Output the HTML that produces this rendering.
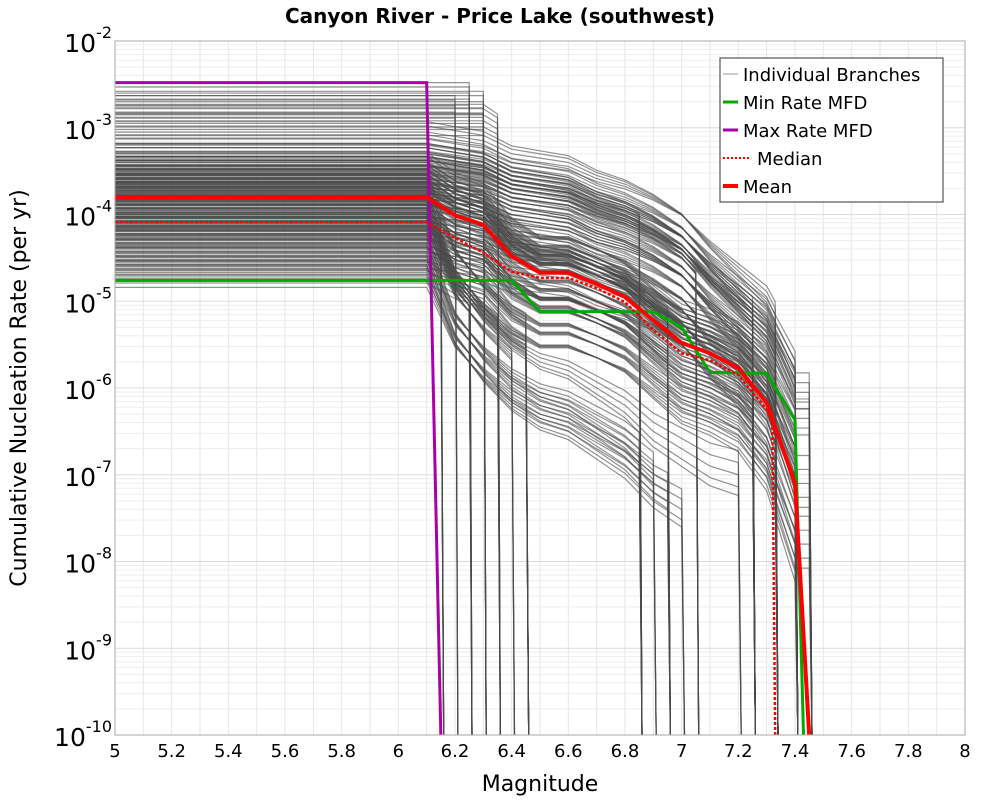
<!DOCTYPE html>
<html><head><meta charset="utf-8"><style>
body{margin:0;background:#fff;}
svg text{font-family:"DejaVu Sans","Liberation Sans",sans-serif;}
</style></head><body>
<svg id="chart" width="1000" height="800" xmlns="http://www.w3.org/2000/svg">
<rect width="1000" height="800" fill="#fff"/>
<text x="500" y="23" text-anchor="middle" font-size="20" font-weight="bold">Canyon River - Price Lake (southwest)</text>
<g id="grid"></g>
<g id="branches"></g>
<g id="summary"></g>
<rect x="115" y="41" width="850" height="694" fill="none" stroke="#aaa"/>
<g id="axes"></g>
<text x="540" y="791" text-anchor="middle" font-size="22">Magnitude</text>
<text transform="translate(26,388) rotate(-90)" text-anchor="middle" font-size="22">Cumulative Nucleation Rate (per yr)</text>
<g id="legend">
<rect x="720" y="58" width="223" height="144" fill="#fff" stroke="#333"/>
<line x1="723" y1="74" x2="738" y2="74" stroke="#999" stroke-width="1"/>
<text x="743" y="81" font-size="18">Individual Branches</text>
<line x1="723" y1="102" x2="738" y2="102" stroke="#00aa00" stroke-width="3"/>
<text x="743" y="109" font-size="18">Min Rate MFD</text>
<line x1="723" y1="130" x2="738" y2="130" stroke="#aa00aa" stroke-width="3"/>
<text x="743" y="137" font-size="18">Max Rate MFD</text>
<line x1="723" y1="158" x2="751" y2="158" stroke="#f00" stroke-width="2" stroke-dasharray="2,2"/>
<text x="757" y="165" font-size="18">Median</text>
<line x1="723" y1="186" x2="738" y2="186" stroke="#f00" stroke-width="4"/>
<text x="743" y="193" font-size="18">Mean</text>
</g>
</svg>
<script>
const xTicks=[5,5.2,5.4,5.6,5.8,6,6.2,6.4,6.6,6.8,7,7.2,7.4,7.6,7.8,8];
const yDecades=[-2,-3,-4,-5,-6,-7,-8,-9,-10];
const meanMags=[5,6.1,6.2,6.3,6.4,6.5,6.6,6.7,6.8,6.9,7.0,7.1,7.2,7.3,7.4,7.45];
const meanLog=[-3.8,-3.8,-4.01,-4.12,-4.48,-4.67,-4.67,-4.8,-4.95,-5.22,-5.48,-5.6,-5.77,-6.17,-7.1,-10];
const medianMags=[5,6.1,6.2,6.3,6.4,6.5,6.6,6.7,6.8,6.9,7.0,7.1,7.2,7.3,7.32,7.33];
const medianLog=[-4.09,-4.09,-4.27,-4.44,-4.66,-4.73,-4.73,-4.85,-5.01,-5.33,-5.6,-5.68,-5.85,-6.25,-6.4,-10];
const minMags=[5,6.1,6.4,6.5,6.9,7.0,7.1,7.3,7.4,7.43];
const minLog=[-4.76,-4.76,-4.76,-5.12,-5.12,-5.3,-5.82,-5.83,-6.37,-10];
const maxMags=[5,6.1,6.15];
const maxLog=[-2.48,-2.48,-10];
const templMags=[6.1,6.2,6.3,6.4,6.5,6.6,6.7,6.8,6.9,7.0,7.1,7.2,7.3,7.4];
const templA=[0,-0.21,-0.32,-0.68,-0.87,-0.87,-1.0,-1.15,-1.42,-1.68,-1.8,-1.97,-2.37,-3.3];
const templB=[0,-0.05,-0.1,-0.25,-0.3,-0.35,-0.5,-0.6,-0.75,-0.95,-1.3,-1.6,-1.9,-2.6];
const templC=[0,-0.8,-1.2,-1.5,-1.7,-1.8,-2.0,-2.2,-2.5,-2.7,-2.9,-3.0,-3.1,-3.3];
const templD=[0,0,0,-0.2,-0.8,-0.9,-1.0,-1.1,-1.3,-1.5,-1.7,-1.9,-2.2,-2.8];
const branchStart=[-2.6,-2.7,-2.75,-2.85,-2.95,-3.05,-3.2,-3.3,-3.35,-3.4,-3.45,-3.5,-3.55,-3.6,-3.62,-3.65,-3.7,-3.72,-3.75,-3.78,-3.8,-3.85,-3.88,-3.9,-3.95,-4.0,-4.02,-4.05,-4.1,-4.12,-4.15,-4.2,-4.22,-4.25,-4.3,-4.35,-4.4,-4.45,-4.5,-4.55,-4.6,-4.65,-4.7,-3.4,-3.5,-3.6,-3.7,-3.9,-4.0,-4.1,-3.3,-3.45,-3.55,-3.65,-3.75];
const branchTempl=["D","D","D","D","D","B","B","B","B","A","B","A","B","A","C","B","A","C","B","A","A","C","B","A","C","A","B","C","A","C","B","A","C","A","B","C","A","C","A","B","C","A","C","B","B","A","A","C","C","A","B","B","A","A","B"];
const branchCut=[6.25,6.3,6.2,6.35,6.3,7.33,7.4,7.25,6.85,7.33,7.45,7.25,7.05,6.95,6.45,7.33,7.4,6.15,7.25,6.85,7.45,6.35,7.4,7.33,6.45,7.25,7.05,6.25,6.95,6.4,7.33,7.4,6.15,7.25,7.4,6.85,7.33,6.9,7.45,7.25,6.95,7.4,7.0,7.4,7.33,7.4,7.25,6.45,7.2,7.33,7.4,7.25,7.4,7.33,7.45];
const branchJitter=[0,-0.07,0.07,-0.14,0.12];
const templs={A:templA,B:templB,C:templC,D:templD};
const X0=115,X1=965,Y0=41,Y1=735;
const xs=m=>X0+(m-5)/3*(X1-X0);
const ys=l=>Y0+(-2-l)/8*(Y1-Y0);
const NS="http://www.w3.org/2000/svg";
function mk(tag,attrs,parent){const e=document.createElementNS(NS,tag);for(const k in attrs)e.setAttribute(k,attrs[k]);parent.appendChild(e);return e;}
const grid=document.getElementById('grid'),axes=document.getElementById('axes');
for(let i=0;i<30;i++){const m=5+i*0.1;const g=mk('line',{x1:xs(m),x2:xs(m),y1:Y0,y2:Y1,stroke:'#e6e6e6'},grid);

}
for(let d=-10;d<-2;d++){for(let k=1;k<10;k++){const l=d+Math.log10(k);const g=mk('line',{x1:X0,x2:X1,y1:ys(l),y2:ys(l),stroke:k==1?'#dcdcdc':'#eeeeee'},grid);

}}
xTicks.forEach(t=>{const e=mk('text',{x:xs(t),y:757,'text-anchor':'middle','font-size':'18'},axes);e.textContent=String(t);

});
yDecades.forEach(d=>{const e=mk('text',{x:112,y:ys(d)+11,'text-anchor':'end','font-size':'25'},axes);


const a=document.createElementNS(NS,'tspan');a.textContent='10';e.appendChild(a);
const b=document.createElementNS(NS,'tspan');b.setAttribute('dy','-14');b.setAttribute('font-size','16');b.textContent=String(d);e.appendChild(b);});
const interp=(arr,m)=>{if(m<=templMags[0])return arr[0];for(let i=1;i<templMags.length;i++){if(m<=templMags[i]){const t=(m-templMags[i-1])/(templMags[i]-templMags[i-1]);return arr[i-1]+t*(arr[i]-arr[i-1]);}}return arr[arr.length-1];};
const bg=document.getElementById('branches');
branchStart.forEach((s0,i)=>{const tp=templs[branchTempl[i]];const cut=branchCut[i];
branchJitter.forEach((jt,k)=>{const s=s0+jt;
let pts=[[xs(5),ys(s)]];templMags.forEach((m,j)=>{if(m<cut)pts.push([xs(m),ys(Math.max(-10,s+tp[j]*(1+jt)))]);});
pts.push([xs(cut),ys(Math.max(-10,s+interp(tp,cut)*(1+jt)))]);pts.push([xs(cut+0.01),Y1]);
const p=mk('polyline',{points:pts.map(p=>p.join(',')).join(' '),fill:'none',stroke:'#4a4a4a','stroke-opacity':'0.6','stroke-width':'1.2'},bg);

});});
const sg=document.getElementById('summary');
function line(mags,logs,color,w,dash,name){const a={points:mags.map((m,i)=>xs(m)+','+ys(logs[i])).join(' '),fill:'none',stroke:color,'stroke-width':w};if(dash)a['stroke-dasharray']=dash;const p=mk('polyline',a,sg);

}
line(minMags,minLog,'#00aa00',3,null,'min-rate-line');
line(maxMags,maxLog,'#aa00aa',3,null,'max-rate-line');
line(medianMags,medianLog,'#ff0000',2.5,'3,2','median-line');
line(meanMags,meanLog,'#ff0000',4,null,'mean-line');
</script>
</body></html>
